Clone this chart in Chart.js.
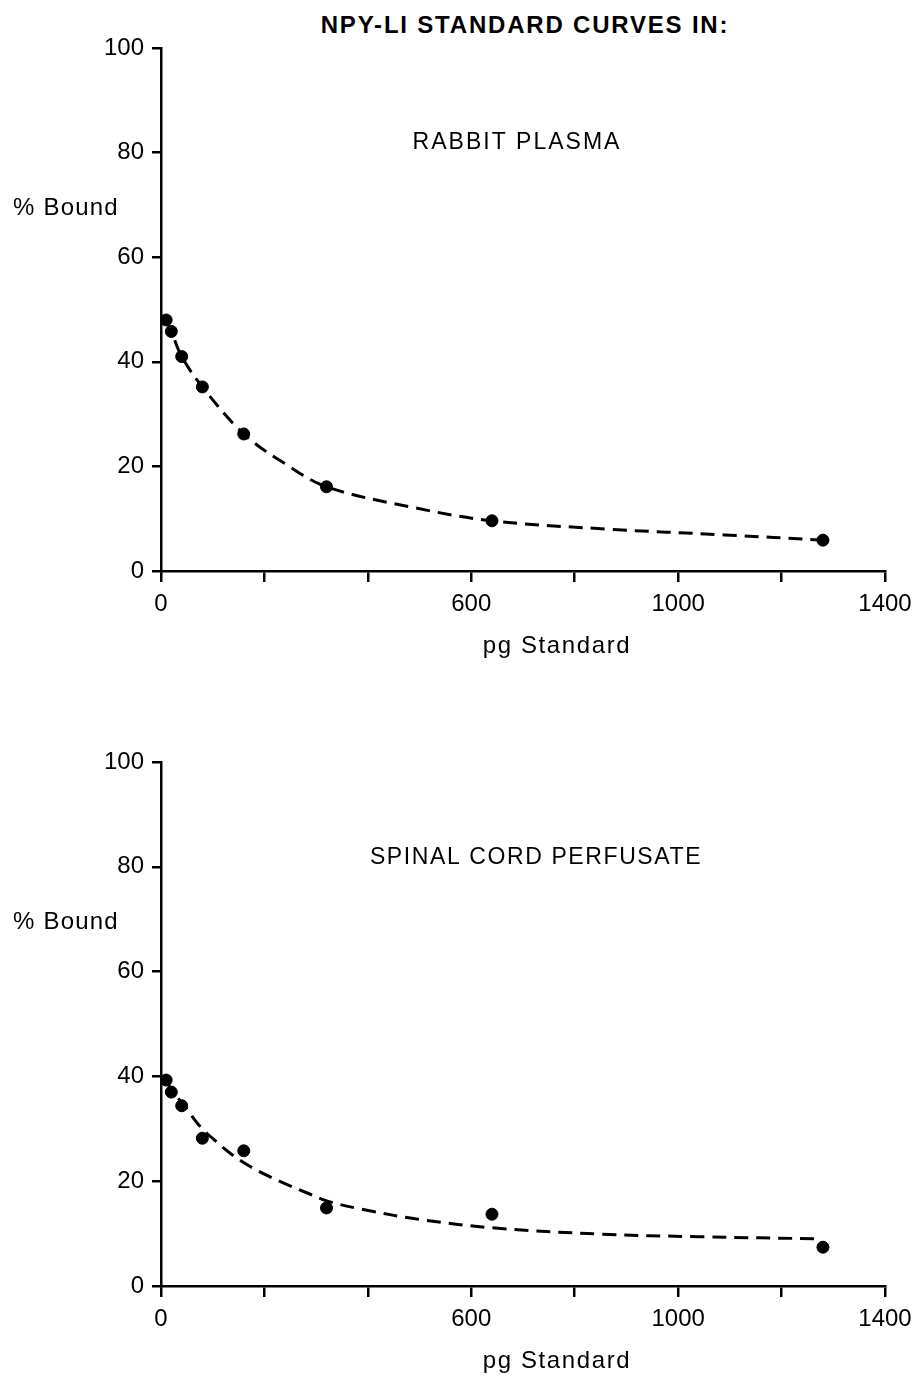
<!DOCTYPE html>
<html>
<head>
<meta charset="utf-8">
<title>NPY-LI standard curves</title>
<script src="https://cdn.jsdelivr.net/npm/chart.js@4.4.0/dist/chart.umd.min.js"></script>
<style>
  body { margin: 0; background: #fff; width: 923px; height: 1381px; position: relative; overflow: hidden;
         font-family: "Liberation Sans", Arial, sans-serif; }
  #title { position: absolute; left: 0; width: 1050px; top: 11px; text-align: center;
           font-weight: bold; font-size: 24px; letter-spacing: 1.8px; }
  .panel { position: absolute; left: 0; width: 923px; height: 690px; }
</style>
</head>
<body>
<div id="title">NPY-LI STANDARD CURVES IN:</div>
<div class="panel" style="top:0"><canvas id="plasmaChart" width="923" height="690"></canvas></div>
<div class="panel" style="top:690px"><canvas id="perfusateChart" width="923" height="690"></canvas></div>
<script>
// standards (pg) and measured % bound
const standardPg = [10, 20, 40, 80, 160, 320, 640, 1280];
const plasmaBound = [48, 45.8, 41, 35.2, 26.2, 16.1, 9.6, 5.9];
const perfusateBound = [39.3, 37.0, 34.4, 28.2, 25.8, 14.9, 13.7, 7.4];

// dashed fitted curves
const plasmaCurvePg = [10, 20, 40, 80, 160, 240, 320, 490, 640, 865, 1090, 1280];
const plasmaCurveBound = [48, 45.8, 41, 35.2, 26.2, 20.5, 16.1, 12.1, 9.6, 8.0, 6.9, 5.9];
const perfusateCurvePg = [10, 20, 48, 77, 110, 141, 174, 207, 245, 284, 322, 386, 500, 641, 850, 1040, 1275];
const perfusateCurveBound = [39.3, 37.5, 34.0, 30.3, 27.3, 24.8, 22.7, 21.0, 19.3, 17.7, 16.2, 14.7, 12.7, 11.1, 9.9, 9.4, 9.0];

// ticks every 200 pg, only some labelled
const xTickLabels = ['0', '', '', '600', '', '1000', '', '1400'];

const FONT = '"Liberation Sans", Arial, sans-serif';

function toXY(xs, ys) {
  return xs.map((x, i) => ({ x: x, y: ys[i] }));
}

// free text drawn straight onto the canvas
function textLayer(items) {
  return {
    id: 'textLayer',
    afterDraw(chart) {
      const c = chart.ctx;
      c.save();
      c.fillStyle = '#000';
      c.textAlign = 'center';
      c.textBaseline = 'middle';
      items.forEach(t => {
        c.font = t.font;
        c.letterSpacing = t.spacing || '0px';
        c.fillText(t.text, t.x, t.y);
      });
      c.restore();
    }
  };
}

function makeChart(id, points, curve, padding, labels) {
  return new Chart(document.getElementById(id), {
    type: 'scatter',
    data: {
      datasets: [{
        type: 'line',
        data: curve,
        borderColor: '#000',
        borderWidth: 3,
        borderDash: [14, 8],
        pointRadius: 0,
        fill: false,
        tension: 0.35
      }, {
        data: points,
        backgroundColor: '#000',
        borderColor: '#000',
        pointRadius: 6
      }]
    },
    options: {
      responsive: false,
      animation: false,
      devicePixelRatio: 1,
      layout: { padding: padding },
      plugins: { legend: { display: false }, tooltip: { enabled: false } },
      scales: {
        x: {
          type: 'linear', min: 0, max: 1400,
          ticks: {
            stepSize: 200, autoSkip: false, maxRotation: 0, padding: 8,
            color: '#000', font: { family: FONT, size: 24 },
            callback: (v, i) => xTickLabels[i]
          },
          grid: { drawOnChartArea: false, drawTicks: true, tickLength: 11, color: '#000', lineWidth: 2.5 },
          border: { color: '#000', width: 2.5 },
          afterFit: s => { s.height = 90; }
        },
        y: {
          min: 0, max: 100,
          ticks: { stepSize: 20, padding: 8, color: '#000', font: { family: FONT, size: 24 } },
          grid: { drawOnChartArea: false, drawTicks: true, tickLength: 9, color: '#000', lineWidth: 2.5 },
          border: { color: '#000', width: 2.5 },
          afterFit: s => { s.width = 161; }
        }
      }
    },
    plugins: [textLayer(labels)]
  });
}

makeChart('plasmaChart',
  toXY(standardPg, plasmaBound),
  toXY(plasmaCurvePg, plasmaCurveBound),
  { top: 48, right: 38, bottom: 29, left: 0 },
  [
    { text: 'RABBIT PLASMA', x: 517, y: 143, font: '23px ' + FONT, spacing: '2px' },
    { text: '% Bound', x: 66, y: 208, font: '24px ' + FONT, spacing: '1.2px' },
    { text: 'pg Standard', x: 557, y: 646, font: '24px ' + FONT, spacing: '1.6px' }
  ]);

makeChart('perfusateChart',
  toXY(standardPg, perfusateBound),
  toXY(perfusateCurvePg, perfusateCurveBound),
  { top: 72, right: 38, bottom: 4, left: 0 },
  [
    { text: 'SPINAL CORD PERFUSATE', x: 536, y: 168, font: '23px ' + FONT, spacing: '1.6px' },
    { text: '% Bound', x: 66, y: 232, font: '24px ' + FONT, spacing: '1.2px' },
    { text: 'pg Standard', x: 557, y: 671, font: '24px ' + FONT, spacing: '1.6px' }
  ]);
</script>
</body>
</html>
